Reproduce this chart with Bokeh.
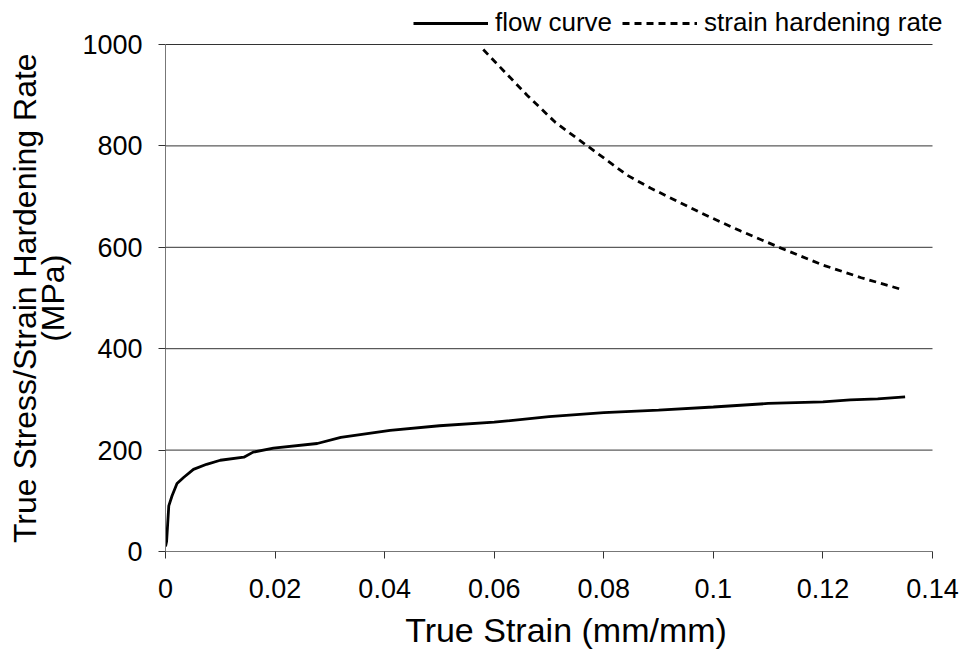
from bokeh.plotting import figure
from bokeh.models import Range1d, FixedTicker, Legend, LegendItem
from bokeh.embed import file_html
from bokeh.resources import INLINE

# ---- data ----
strain_flow = [0.0, 0.0002, 0.0004, 0.0006, 0.0012, 0.0021, 0.0033, 0.0051, 0.0075,
               0.010, 0.0143, 0.016, 0.0197, 0.0277, 0.032, 0.041, 0.050, 0.060,
               0.070, 0.080, 0.090, 0.100, 0.110, 0.120, 0.125, 0.130, 0.135]
stress_flow = [10, 20, 55, 90, 110, 134, 146, 162, 172,
               180, 186, 196, 204, 213, 225, 239, 248, 255,
               266, 274, 279, 285, 292, 295, 299, 301, 305]

strain_rate = [0.058, 0.062, 0.066, 0.0712, 0.077, 0.0843, 0.0885, 0.0977,
               0.105, 0.112, 0.120, 0.127, 0.134]
hardening_rate = [990, 945, 900, 846, 800, 742, 717, 668,
                  632, 600, 565, 540, 518]

x_ticks = [0, 0.02, 0.04, 0.06, 0.08, 0.10, 0.12, 0.14]
x_tick_labels = ["0", "0.02", "0.04", "0.06", "0.08", "0.1", "0.12", "0.14"]
y_ticks = [0, 200, 400, 600, 800, 1000]
y_tick_labels = ["0", "200", "400", "600", "800", "1000"]

series_names = ["flow curve", "strain hardening rate"]
x_title = "True Strain (mm/mm)"
y_title_lines = ["True Stress/Strain Hardening Rate", "(MPa)"]

FONT = "Liberation Sans"

# layout: the data area (0..0.14, 0..1000) occupies x 165..932, y 44..551;
# the frame is extended to the top and right edges so the legend can sit there.
W, H = 966, 657
LEFT, RIGHT_DATA, TOP_DATA, BOTTOM = 165, 932, 44, 551
X_MAX, Y_MAX = x_ticks[-1], y_ticks[-1]
x_end = X_MAX * (W - LEFT) / (RIGHT_DATA - LEFT)
y_end = Y_MAX * (BOTTOM - 0) / (BOTTOM - TOP_DATA)

p = figure(width=W, height=H, output_backend="svg", toolbar_location=None,
           x_range=Range1d(0, x_end), y_range=Range1d(0, y_end),
           min_border_left=LEFT, min_border_right=0,
           min_border_top=0, min_border_bottom=H - BOTTOM)
p.outline_line_color = None
p.background_fill_color = "white"
p.border_fill_color = "white"

# horizontal gridlines, limited to the data area
grid_y = y_ticks[1:]
p.segment(x0=[x_ticks[0]] * len(grid_y), x1=[x_ticks[-1]] * len(grid_y),
          y0=grid_y, y1=grid_y, line_color="#333333", line_width=1)

r1 = p.line(strain_flow, stress_flow, line_color="black", line_width=2.8)
r2 = p.line(strain_rate, hardening_rate, line_color="black", line_width=2.8,
            line_dash="7 5")

# axes
p.xaxis.ticker = FixedTicker(ticks=x_ticks)
p.xaxis.major_label_overrides = {t: l for t, l in zip(x_ticks, x_tick_labels)}
p.xaxis.bounds = (0, X_MAX)
p.yaxis.ticker = FixedTicker(ticks=y_ticks)
p.yaxis.major_label_overrides = {t: l for t, l in zip(y_ticks, y_tick_labels)}
p.yaxis.bounds = (0, Y_MAX)

for ax in (p.xaxis, p.yaxis):
    ax.axis_line_color = "#777777"
    ax.axis_line_width = 1
    ax.major_tick_line_color = "#333333"
    ax.major_tick_in = 0
    ax.major_tick_out = 7
    ax.minor_tick_line_color = None
    ax.major_label_text_font = FONT
    ax.major_label_text_font_size = "27px"
    ax.major_label_text_color = "black"
    ax.axis_label_text_font = FONT
    ax.axis_label_text_font_style = "normal"
    ax.axis_label_text_color = "black"

p.xaxis.axis_label_text_font_size = "34px"
p.yaxis.axis_label_text_font_size = "32px"
p.yaxis.axis_label_text_line_height = 0.8

# the axis title is centred on the frame (which reaches the top edge);
# trailing no-break spaces move it down to the centre of the data area
pad = "\u00a0" * 5
p.xaxis.axis_label = x_title
p.yaxis.axis_label = "\n".join(line + pad for line in y_title_lines)
p.xaxis.major_label_standoff = 20
p.yaxis.major_label_standoff = 16
p.xaxis.axis_label_standoff = 10
p.yaxis.axis_label_standoff = 8

p.xgrid.visible = False
p.ygrid.visible = False

legend = Legend(items=[LegendItem(label=series_names[0], renderers=[r1]),
                       LegendItem(label=series_names[1], renderers=[r2])],
                orientation="horizontal", location=(413 - LEFT, BOTTOM - 38),
                glyph_width=75, glyph_height=20, label_standoff=7, spacing=10,
                padding=0, margin=0, border_line_color=None,
                background_fill_alpha=0,
                label_text_font=FONT, label_text_font_size="26px",
                label_text_color="black")
p.add_layout(legend)

open("out.html", "w").write(file_html(p, INLINE))
